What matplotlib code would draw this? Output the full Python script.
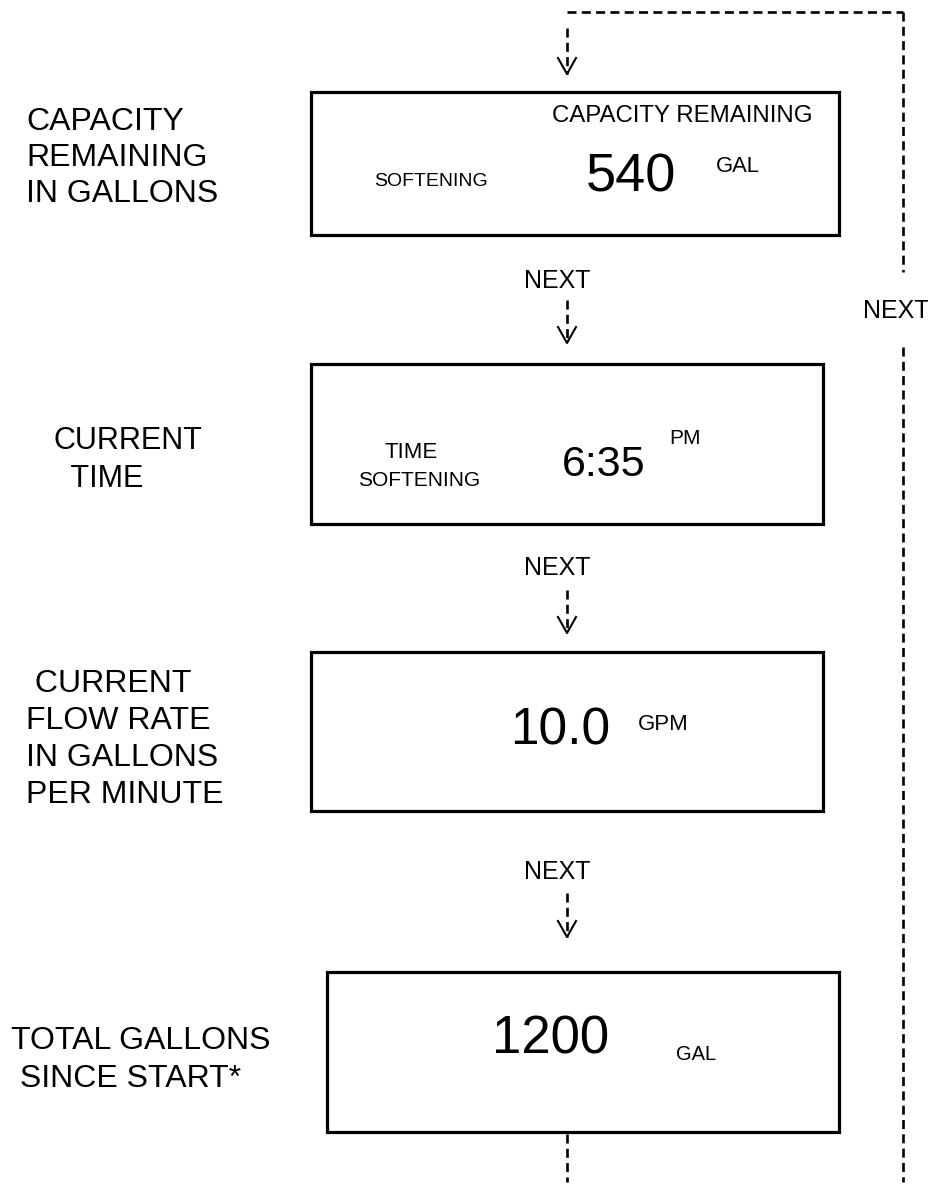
import matplotlib
matplotlib.use("Agg")
import matplotlib.pyplot as plt
from matplotlib.patches import Rectangle

plt.rcParams['font.family'] = ['Liberation Sans', 'DejaVu Sans']
plt.rcParams['lines.scale_dashes'] = False

W, H = 929, 1194

# display boxes: left, top, right, bottom (pixels)
boxes = [(311, 92, 839, 235), (311, 364, 823, 524), (311, 652, 823, 811), (327, 972, 839, 1132)]

# left-hand captions, one list of lines per screen
captions = [
    ["CAPACITY", "REMAINING", "IN GALLONS"],
    ["CURRENT", "  TIME"],
    [" CURRENT", "FLOW RATE", "IN GALLONS", "PER MINUTE"],
    ["TOTAL GALLONS", " SINCE START*"],
]
caption_xy = [(26, 122), (54, 441), (26, 684), (11, 1041)]
caption_step = [36, 38, 37, 38]
caption_size = [23, 22, 23, 23]

# big readouts
readouts = ["540", "6:35", "10.0", "1200"]
readout_xy = [(586, 178), (562, 465), (510, 731), (492, 1040)]
readout_size = [39, 31, 37, 38]

# small display words: text, x, y, size
small = [
    ("CAPACITY REMAINING", 552, 116, 17.3),
    ("SOFTENING", 374, 182, 14),
    ("GAL", 716, 166, 15.8),
    ("TIME", 385, 453, 16),
    ("SOFTENING", 358, 481, 15),
    ("PM", 669, 439, 15),
    ("GPM", 638, 724, 16),
    ("GAL", 676, 1055, 14.5),
]

# NEXT labels
next_xy = [(557, 281), (557, 568), (557, 872), (896, 311)]

# arrow shafts: x, y_start, y_tip
arrows = [(567, 28, 74), (567, 300, 343), (567, 590, 633), (567, 893, 937)]

# loop path
loop_x = [567, 903]
loop_top = 12
right_gap = (272, 347)
bottom_y = 1182

fig = plt.figure(figsize=(W / 100, H / 100), dpi=100)
ax = fig.add_axes([0, 0, 1, 1])
ax.set_xlim(0, W)
ax.set_ylim(H, 0)
ax.axis('off')

dash = dict(color='black', lw=1.9, linestyle=(0, (6.5, 3.8)), solid_capstyle='butt', dash_capstyle='butt')

for l, t, r, b in boxes:
    ax.add_patch(Rectangle((l, t), r - l, b - t, fill=False, ec='black', lw=2.3))

for lines, (x, y), step, fs in zip(captions, caption_xy, caption_step, caption_size):
    for i, s in enumerate(lines):
        ax.text(x, y + i * step, s, fontsize=fs, ha='left', va='center')

for s, (x, y), fs in zip(readouts, readout_xy, readout_size):
    ax.text(x, y, s, fontsize=fs, ha='left', va='center')

for s, x, y, fs in small:
    ax.text(x, y, s, fontsize=fs, ha='left', va='center')

for x, y in next_xy:
    ax.text(x, y, "NEXT", fontsize=18, ha='center', va='center')

for x, y0, y1 in arrows:
    ax.plot([x, x], [y0, y1], **dash)
    ax.plot([x - 9, x, x + 9], [y1 - 16, y1, y1 - 16], color='black', lw=1.5)

# loop back line: bottom box -> right side -> top
ax.plot([loop_x[0], loop_x[0]], [boxes[3][3] + 2, bottom_y], **dash)
ax.plot([loop_x[0], loop_x[1]], [loop_top, loop_top], **dash)
ax.plot([loop_x[1], loop_x[1]], [loop_top, right_gap[0]], **dash)
ax.plot([loop_x[1], loop_x[1]], [right_gap[1], bottom_y], **dash)

fig.savefig("out.png", dpi=100, facecolor='white')
